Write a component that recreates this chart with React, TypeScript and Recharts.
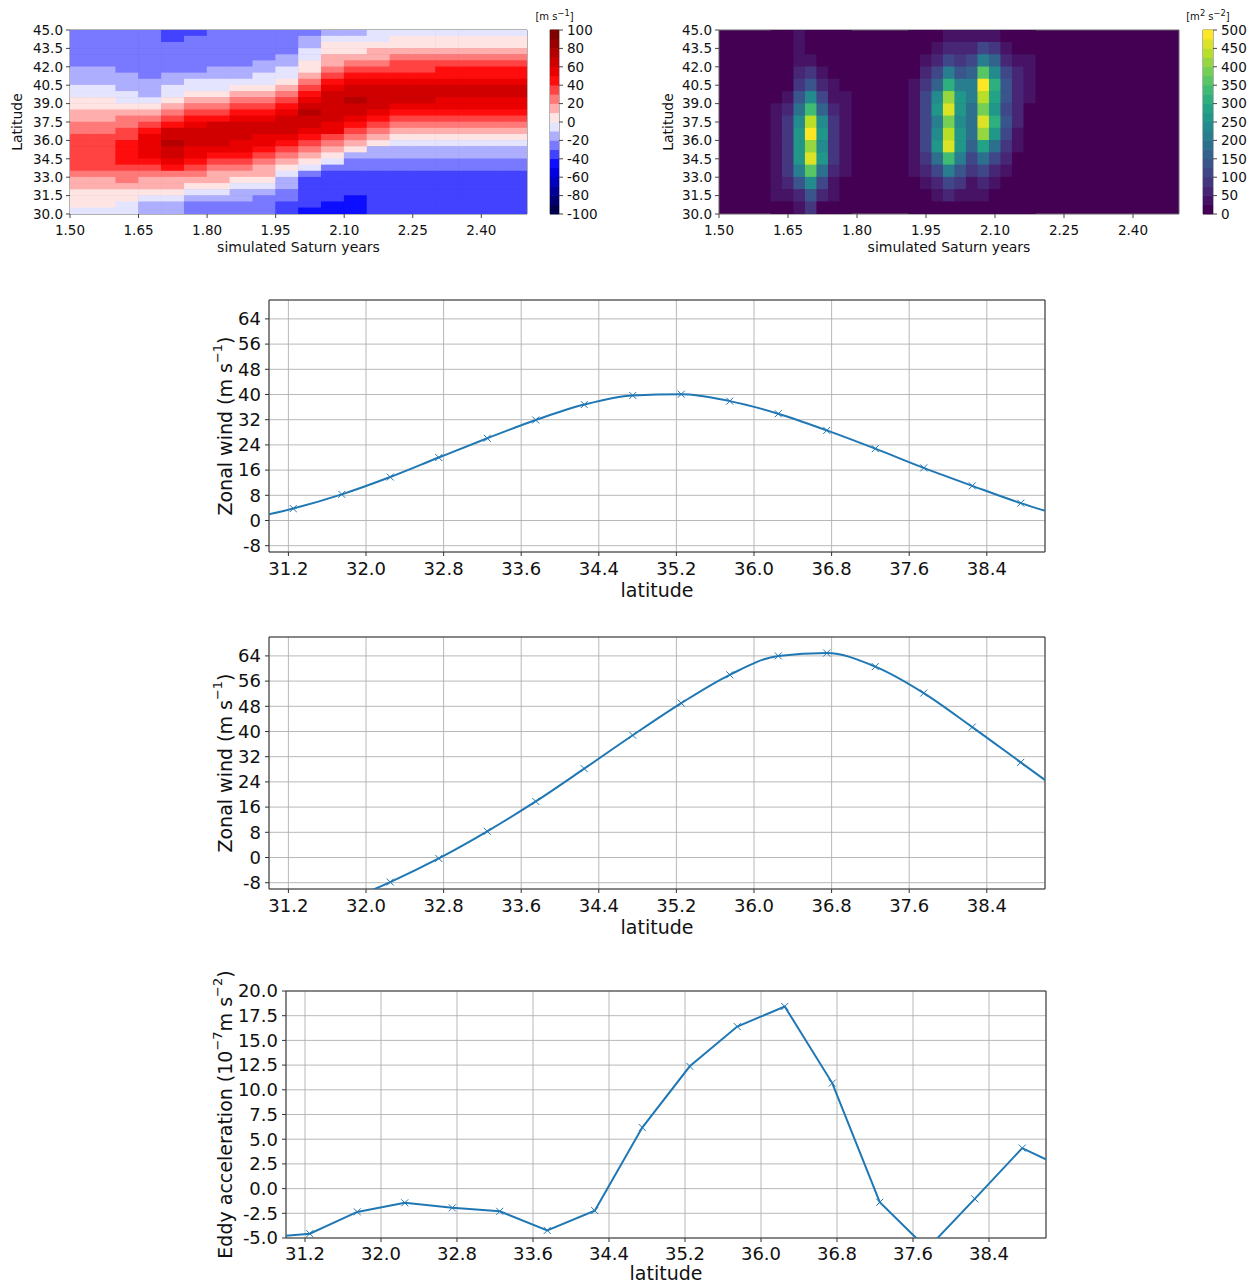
import {
  CartesianGrid,
  Label,
  Line,
  LineChart,
  ReferenceArea,
  Scatter,
  ScatterChart,
  XAxis,
  YAxis,
} from "recharts";

const FONT = "DejaVu Sans, sans-serif";
const BLUE = "#1f77b4";
const INK = "#111";

// ---- latitude profiles (lower three panels) ----
const latitudes = [
  30.75, 31.25, 31.75, 32.25, 32.75, 33.25, 33.75, 34.25, 34.75, 35.25, 35.75, 36.25, 36.75, 37.25,
  37.75, 38.25, 38.75, 39.25,
];
const windEarly = [
  0.3, 3.8, 8.3, 13.8, 20.0, 26.1, 31.9, 36.8, 39.7, 40.1, 37.9, 33.9, 28.6, 22.8, 16.7, 11.0, 5.5, 0.8,
];
const windLate = [
  -25, -20, -14.3, -7.8, -0.3, 8.3, 17.8, 28.2, 38.8, 49.0, 58.0, 64.0, 64.9, 60.6, 52.2, 41.4, 30.2, 19.0,
];
const eddyAccel = [
  -4.98, -4.56, -2.36, -1.44, -1.95, -2.3, -4.23, -2.23, 6.18, 12.38, 16.4, 18.43, 10.68, -1.38, -6.1,
  -1.04, 4.1, 1.82,
];
const latTicks = [31.2, 32.0, 32.8, 33.6, 34.4, 35.2, 36.0, 36.8, 37.6, 38.4];
const windTicks = [-8, 0, 8, 16, 24, 32, 40, 48, 56, 64];
const eddyTicks = [-5, -2.5, 0, 2.5, 5, 7.5, 10, 12.5, 15, 17.5, 20];

// ---- time-latitude panels (top row) ----
const yearTicks = [1.5, 1.65, 1.8, 1.95, 2.1, 2.25, 2.4];
const fieldLatTicks = [30, 31.5, 33, 34.5, 36, 37.5, 39, 40.5, 42, 43.5, 45];

// zonal wind, one column per 0.05 yr, rows from 44.75N down to 30.25N
const windYears = [
  1.525, 1.575, 1.625, 1.675, 1.725, 1.775, 1.825, 1.875, 1.925, 1.975, 2.025, 2.075, 2.125, 2.175,
  2.225, 2.275, 2.325, 2.375, 2.425, 2.475,
];
const windLats = [
  44.75, 44.25, 43.75, 43.25, 42.75, 42.25, 41.75, 41.25, 40.75, 40.25, 39.75, 39.25, 38.75, 38.25,
  37.75, 37.25, 36.75, 36.25, 35.75, 35.25, 34.75, 34.25, 33.75, 33.25, 32.75, 32.25, 31.75, 31.25,
  30.75, 30.25,
];
const windByYear = [
  [-25, -25, -25, -25, -25, -25, -15, -15, -15, -5, -5, 5, 5, 15, 15, 25, 25, 35, 35, 35, 35, 35, 35, 25, 15, 15, 5, 5, 5, -5],
  [-25, -25, -25, -25, -25, -25, -15, -15, -15, -5, -5, 5, 5, 15, 15, 25, 25, 35, 35, 35, 35, 35, 35, 25, 15, 15, 5, 5, 5, -5],
  [-25, -25, -25, -25, -25, -25, -25, -15, -15, -15, -5, -5, 5, 15, 25, 25, 35, 35, 45, 45, 45, 45, 35, 25, 25, 15, 5, 5, -5, -5],
  [-25, -25, -25, -25, -25, -25, -25, -25, -15, -15, -15, -5, 5, 15, 25, 35, 45, 55, 55, 55, 55, 45, 35, 25, 15, 15, 5, -5, -15, -15],
  [-35, -35, -25, -25, -25, -25, -25, -15, -15, -5, -5, 5, 15, 25, 35, 45, 65, 65, 75, 65, 65, 55, 45, 25, 15, 15, 5, -5, -15, -15],
  [-35, -25, -25, -25, -25, -25, -25, -15, -5, -5, 5, 15, 25, 35, 45, 55, 65, 65, 65, 55, 55, 45, 35, 25, 15, 5, -5, -15, -25, -25],
  [-25, -25, -25, -25, -25, -25, -15, -15, -5, -5, 5, 15, 25, 35, 45, 65, 65, 65, 65, 55, 45, 35, 25, 15, 15, 5, -5, -15, -25, -25],
  [-25, -25, -25, -25, -25, -25, -15, -15, -5, 5, 15, 25, 35, 45, 55, 65, 65, 65, 55, 55, 45, 35, 25, 15, 5, -5, -15, -15, -25, -25],
  [-25, -25, -25, -25, -25, -15, -15, -5, -5, 5, 15, 25, 35, 45, 55, 65, 65, 55, 55, 45, 35, 25, 15, 15, 5, -5, -15, -25, -25, -25],
  [-25, -25, -25, -25, -15, -15, -5, -5, 5, 15, 25, 35, 45, 55, 65, 65, 65, 55, 45, 35, 25, 15, 5, -5, -15, -15, -25, -25, -35, -35],
  [-25, -15, -15, -5, -5, 5, 5, 15, 25, 35, 45, 55, 65, 75, 65, 65, 55, 45, 35, 25, 15, 5, -5, -25, -35, -35, -35, -35, -35, -45],
  [-15, -5, 5, 5, 15, 15, 25, 35, 45, 55, 65, 65, 65, 65, 65, 55, 55, 35, 25, 15, 5, -5, -25, -35, -35, -35, -35, -35, -45, -45],
  [-15, -5, 5, 5, 15, 25, 35, 45, 55, 65, 65, 75, 65, 65, 55, 45, 35, 25, 15, 5, -15, -25, -25, -35, -35, -35, -35, -45, -45, -45],
  [-5, -5, 5, 15, 15, 25, 35, 45, 55, 65, 65, 65, 65, 55, 45, 35, 25, 15, 5, -15, -15, -25, -25, -35, -35, -35, -35, -35, -35, -35],
  [-5, 5, 5, 15, 25, 35, 35, 45, 55, 65, 65, 65, 55, 45, 35, 25, 15, 5, -5, -15, -15, -25, -25, -35, -35, -35, -35, -35, -35, -35],
  [-5, 5, 5, 15, 25, 35, 35, 45, 55, 65, 65, 65, 55, 45, 35, 25, 15, 5, -5, -15, -15, -25, -25, -35, -35, -35, -35, -35, -35, -35],
  [-5, 5, 5, 15, 25, 35, 45, 45, 55, 65, 65, 55, 55, 45, 35, 25, 15, 5, -5, -15, -15, -25, -25, -35, -35, -35, -35, -35, -35, -35],
  [-5, 5, 5, 15, 25, 35, 45, 45, 55, 65, 65, 55, 55, 45, 35, 25, 15, 5, -5, -15, -15, -25, -25, -35, -35, -35, -35, -35, -35, -35],
  [-5, 5, 5, 15, 25, 35, 45, 45, 55, 65, 65, 55, 55, 45, 35, 25, 15, 5, -5, -15, -15, -25, -25, -35, -35, -35, -35, -35, -35, -35],
  [-5, 5, 5, 15, 25, 35, 45, 45, 55, 65, 65, 55, 55, 45, 35, 25, 15, 5, -5, -15, -15, -25, -25, -35, -35, -35, -35, -35, -35, -35],
];
const windLevels = [-100, -90, -80, -70, -60, -50, -40, -30, -20, -10, 0, 10, 20, 30, 40, 50, 60, 70, 80, 90, 100];
const windBarTicks = [-100, -80, -60, -40, -20, 0, 20, 40, 60, 80, 100];

// eddy kinetic energy, columns every 0.025 yr where it is non-zero, rows 44.5N..30.5N
const ekeYears = [
  1.625, 1.65, 1.675, 1.7, 1.725, 1.75, 1.775, 1.925, 1.95, 1.975, 2.0, 2.025, 2.05, 2.075, 2.1, 2.125, 2.15, 2.175,
];
const ekeLats = [44.5, 43.5, 42.5, 41.5, 40.5, 39.5, 38.5, 37.5, 36.5, 35.5, 34.5, 33.5, 32.5, 31.5, 30.5];
const ekeByYear = [
  [0, 0, 0, 0, 0, 0, 30, 30, 30, 30, 30, 30, 30, 30, 0],
  [0, 0, 0, 0, 0, 30, 60, 80, 90, 90, 90, 80, 60, 40, 0],
  [30, 30, 30, 50, 80, 130, 180, 240, 260, 250, 260, 200, 130, 70, 30],
  [0, 0, 40, 80, 140, 230, 330, 440, 480, 420, 470, 360, 230, 140, 80],
  [0, 0, 0, 40, 70, 120, 170, 230, 250, 240, 250, 190, 120, 60, 20],
  [0, 0, 0, 0, 30, 40, 60, 80, 90, 90, 90, 70, 40, 30, 0],
  [0, 0, 0, 0, 0, 30, 30, 30, 30, 30, 30, 30, 0, 0, 0],
  [0, 0, 0, 0, 30, 30, 40, 40, 40, 40, 30, 30, 0, 0, 0],
  [0, 0, 30, 50, 80, 100, 110, 100, 110, 110, 80, 50, 30, 0, 0],
  [0, 30, 70, 110, 170, 230, 260, 220, 240, 250, 180, 110, 60, 30, 0],
  [30, 60, 120, 200, 300, 420, 470, 390, 440, 460, 330, 200, 110, 50, 0],
  [30, 50, 90, 140, 200, 250, 260, 230, 250, 260, 200, 130, 80, 40, 0],
  [30, 70, 120, 170, 200, 200, 190, 180, 180, 160, 120, 80, 40, 30, 0],
  [40, 110, 220, 360, 480, 430, 380, 470, 400, 280, 180, 100, 50, 30, 0],
  [30, 80, 150, 240, 320, 290, 260, 310, 270, 190, 120, 70, 30, 0, 0],
  [0, 40, 70, 110, 140, 130, 120, 140, 120, 90, 60, 30, 0, 0, 0],
  [0, 0, 40, 50, 50, 50, 50, 50, 40, 30, 0, 0, 0, 0, 0],
  [0, 0, 30, 30, 30, 30, 0, 0, 0, 0, 0, 0, 0, 0, 0],
];
const ekeLevels = [
  0, 25, 50, 75, 100, 125, 150, 175, 200, 225, 250, 275, 300, 325, 350, 375, 400, 425, 450, 475, 500,
];
const ekeBarTicks = [0, 50, 100, 150, 200, 250, 300, 350, 400, 450, 500];

// colour maps
const SEISMIC = [
  [0, 0, 77],
  [0, 0, 255],
  [255, 255, 255],
  [255, 0, 0],
  [128, 0, 0],
];
const VIRIDIS = [
  [68, 1, 84],
  [72, 36, 117],
  [65, 68, 135],
  [53, 95, 141],
  [42, 120, 142],
  [33, 145, 140],
  [34, 168, 132],
  [68, 191, 112],
  [122, 209, 81],
  [189, 223, 38],
  [253, 231, 37],
];

function ramp(stops: number[][], f: number) {
  const n = stops.length - 1;
  const p = Math.max(0, Math.min(1, f)) * n;
  const i = Math.min(Math.floor(p), n - 1);
  const t = p - i;
  const c = stops[i].map((a, k) => Math.round(a + (stops[i + 1][k] - a) * t));
  return `rgb(${c[0]},${c[1]},${c[2]})`;
}

function bandColor(v: number, levels: number[], stops: number[][]) {
  let i = 0;
  for (let k = 0; k < levels.length - 1; k++) if (v >= levels[k]) i = k;
  return ramp(stops, i / (levels.length - 2));
}

const windCells = windYears.flatMap((t, i) => windLats.map((lat, j) => ({ t, lat, v: windByYear[i][j] })));
const ekeCells = ekeYears.flatMap((t, i) => ekeLats.map((lat, j) => ({ t, lat, v: ekeByYear[i][j] })));

const tickStyle = (size: number) => ({ fontSize: size, fill: INK, fontFamily: FONT });

function FieldPanel({
  left,
  marginLeft,
  marginRight,
  titleX,
  cells,
  cellW,
  cellH,
  levels,
  stops,
}: any) {
  const plotW = 540 - marginLeft - marginRight - 46;
  const w = plotW * cellW;
  const shape = (p: any) => (
    <rect
      x={p.cx - w / 2 - 0.3}
      y={p.cy - cellH / 2 - 0.3}
      width={w + 0.6}
      height={cellH + 0.6}
      fill={bandColor(p.payload.v, levels, stops)}
    />
  );
  return (
    <div style={{ position: "absolute", left, top: 20 }}>
      <ScatterChart width={540} height={240} margin={{ top: 10, right: marginRight, bottom: 0, left: marginLeft }}>
        <CartesianGrid horizontal={false} vertical={false} fill={bandColor(levels[0], levels, stops)} />
        <XAxis
          type="number"
          dataKey="t"
          domain={[1.5, 2.5]}
          ticks={yearTicks}
          interval={0}
          allowDataOverflow
          tickFormatter={(v: number) => v.toFixed(2)}
          height={46}
          tick={tickStyle(13.5)}
          tickSize={4}
          tickMargin={7}
          tickLine={{ stroke: "#444" }}
          axisLine={false}
        >
          <Label value="simulated Saturn years" position="insideBottom" offset={8} fontSize={14} fill={INK} fontFamily={FONT} />
        </XAxis>
        <YAxis
          type="number"
          dataKey="lat"
          domain={[30, 45]}
          ticks={fieldLatTicks}
          interval={0}
          allowDataOverflow
          tickFormatter={(v: number) => v.toFixed(1)}
          width={46}
          tick={tickStyle(13.5)}
          tickSize={4}
          tickMargin={3}
          tickLine={{ stroke: "#444" }}
          axisLine={false}
        >
          <Label
            content={() => (
              <text
                transform={`translate(${titleX},${10 + 92}) rotate(-90)`}
                textAnchor="middle"
                dominantBaseline="central"
                fontSize={14}
                fontFamily={FONT}
                fill={INK}
              >
                Latitude
              </text>
            )}
          />
        </YAxis>
        <Scatter data={cells} shape={shape} isAnimationActive={false} />
        <ReferenceArea x1={1.5} x2={2.5} y1={30} y2={45} fill="none" stroke="#666" strokeWidth={1} ifOverflow="visible" />
      </ScatterChart>
    </div>
  );
}

function ColorBar({ left, barW, axisW, levels, ticks, stops }: any) {
  const bands = levels.slice(0, -1).map((lo: number, i: number) => ({ x: 0, y: (lo + levels[i + 1]) / 2, v: lo }));
  const h = 184 / bands.length;
  const shape = (p: any) => (
    <rect x={p.cx - barW / 2} y={p.cy - h / 2 - 0.3} width={barW} height={h + 0.6} fill={bandColor(p.payload.v, levels, stops)} />
  );
  const lo = levels[0];
  const hi = levels[levels.length - 1];
  return (
    <div style={{ position: "absolute", left, top: 20 }}>
      <ScatterChart width={10 + barW + axisW} height={240} margin={{ top: 10, right: 0, bottom: 46, left: 10 }}>
        <XAxis type="number" dataKey="x" domain={[-1, 1]} hide />
        <YAxis
          type="number"
          dataKey="y"
          orientation="right"
          domain={[lo, hi]}
          ticks={ticks}
          interval={0}
          width={axisW}
          tick={tickStyle(13.5)}
          tickSize={4}
          tickMargin={4}
          tickLine={{ stroke: "#444" }}
          axisLine={false}
        />
        <Scatter data={bands} shape={shape} isAnimationActive={false} />
        <ReferenceArea x1={-1} x2={1} y1={lo} y2={hi} fill="none" stroke="#666" strokeWidth={1} ifOverflow="visible" />
      </ScatterChart>
    </div>
  );
}

const cross = (p: any) => {
  const { cx, cy, index } = p;
  if (cx == null || cy == null || Number.isNaN(cy)) return <g key={`x${index}`} />;
  const r = 3.5;
  return (
    <path
      key={`x${index}`}
      d={`M${cx - r},${cy - r}L${cx + r},${cy + r}M${cx - r},${cy + r}L${cx + r},${cy - r}`}
      stroke={BLUE}
      strokeWidth={1}
      fill="none"
    />
  );
};

const sup = (s: string) => (
  <tspan baselineShift="super" fontSize={13}>
    {s}
  </tspan>
);

const windTitle = (
  <>
    Zonal wind (m s{sup("\u22121")})
  </>
);
const eddyTitle = (
  <>
    Eddy acceleration (10{sup("\u22127")}m s{sup("\u22122")})
  </>
);

function ProfilePanel({
  top,
  height,
  marginTop,
  marginLeft,
  marginRight,
  yWidth,
  axisHeight,
  labelOffset,
  tickGap,
  values,
  domain,
  ticks,
  fmt,
  curve,
  title,
}: any) {
  const plotH = height - marginTop - axisHeight;
  const data = latitudes.map((lat, i) => ({ lat, v: values[i] }));
  return (
    <div style={{ position: "absolute", left: 200, top }}>
      <LineChart
        width={860}
        height={height}
        data={data}
        margin={{ top: marginTop, right: marginRight, bottom: 0, left: marginLeft }}
      >
        <CartesianGrid stroke="#b0b0b0" strokeWidth={0.9} />
        <XAxis
          type="number"
          dataKey="lat"
          domain={[31, 39]}
          ticks={latTicks}
          interval={0}
          allowDataOverflow
          tickFormatter={(v: number) => v.toFixed(1)}
          height={axisHeight}
          tick={tickStyle(18)}
          tickSize={4}
          tickMargin={tickGap}
          tickLine={{ stroke: "#333" }}
          axisLine={false}
        >
          <Label value="latitude" position="insideBottom" offset={labelOffset} fontSize={19} fill={INK} fontFamily={FONT} />
        </XAxis>
        <YAxis
          type="number"
          domain={domain}
          ticks={ticks}
          interval={0}
          allowDataOverflow
          tickFormatter={fmt}
          width={yWidth}
          tick={tickStyle(18)}
          tickSize={4}
          tickMargin={4}
          tickLine={{ stroke: "#333" }}
          axisLine={false}
        >
          <Label
            content={() => (
              <text
                transform={`translate(25,${marginTop + plotH / 2}) rotate(-90)`}
                textAnchor="middle"
                dominantBaseline="central"
                fontSize={19}
                fontFamily={FONT}
                fill={INK}
              >
                {title}
              </text>
            )}
          />
        </YAxis>
        <Line type={curve} dataKey="v" stroke={BLUE} strokeWidth={2} dot={cross} activeDot={false} isAnimationActive={false} />
        <ReferenceArea x1={31} x2={39} y1={domain[0]} y2={domain[1]} fill="none" stroke="#333" strokeWidth={1} ifOverflow="visible" />
      </LineChart>
    </div>
  );
}

const unitStyle: any = {
  position: "absolute",
  top: 8,
  width: 60,
  textAlign: "center",
  fontSize: 10,
  fontFamily: FONT,
  color: INK,
};

export default function App() {
  return (
    <div
      style={{
        position: "absolute",
        left: 0,
        top: 0,
        width: 1258,
        height: 1283,
        overflow: "hidden",
        background: "#fff",
        fontFamily: FONT,
      }}
    >
      <FieldPanel
        left={0}
        marginLeft={24}
        marginRight={13}
        titleX={17}
        cells={windCells}
        cellW={0.05}
        cellH={184 / 30}
        levels={windLevels}
        stops={SEISMIC}
      />
      <ColorBar left={540} barW={9} axisW={50} levels={windLevels} ticks={windBarTicks} stops={SEISMIC} />
      <div style={{ ...unitStyle, left: 524.5 }}>
        [m s<sup>−1</sup>]
      </div>

      <FieldPanel
        left={660}
        marginLeft={13}
        marginRight={21}
        titleX={8}
        cells={ekeCells}
        cellW={0.025}
        cellH={184 / 15}
        levels={ekeLevels}
        stops={VIRIDIS}
      />
      <ColorBar left={1193} barW={10} axisW={44} levels={ekeLevels} ticks={ekeBarTicks} stops={VIRIDIS} />
      <div style={{ ...unitStyle, left: 1178 }}>
        [m<sup>2</sup> s<sup>−2</sup>]
      </div>

      <ProfilePanel
        top={290}
        height={320}
        marginTop={10}
        marginLeft={14}
        marginRight={15}
        yWidth={55}
        axisHeight={58}
        labelOffset={13}
        tickGap={6}
        values={windEarly}
        domain={[-10, 70]}
        ticks={windTicks}
        fmt={(v: number) => String(v)}
        curve="monotone"
        title={windTitle}
      />
      <ProfilePanel
        top={627}
        height={320}
        marginTop={10}
        marginLeft={14}
        marginRight={15}
        yWidth={55}
        axisHeight={58}
        labelOffset={13}
        tickGap={6}
        values={windLate}
        domain={[-10, 70]}
        ticks={windTicks}
        fmt={(v: number) => String(v)}
        curve="monotone"
        title={windTitle}
      />
      <ProfilePanel
        top={961}
        height={322}
        marginTop={30}
        marginLeft={26}
        marginRight={14}
        yWidth={60}
        axisHeight={45}
        labelOffset={3}
        tickGap={5}
        values={eddyAccel}
        domain={[-5, 20]}
        ticks={eddyTicks}
        fmt={(v: number) => v.toFixed(1)}
        curve="linear"
        title={eddyTitle}
      />
    </div>
  );
}
